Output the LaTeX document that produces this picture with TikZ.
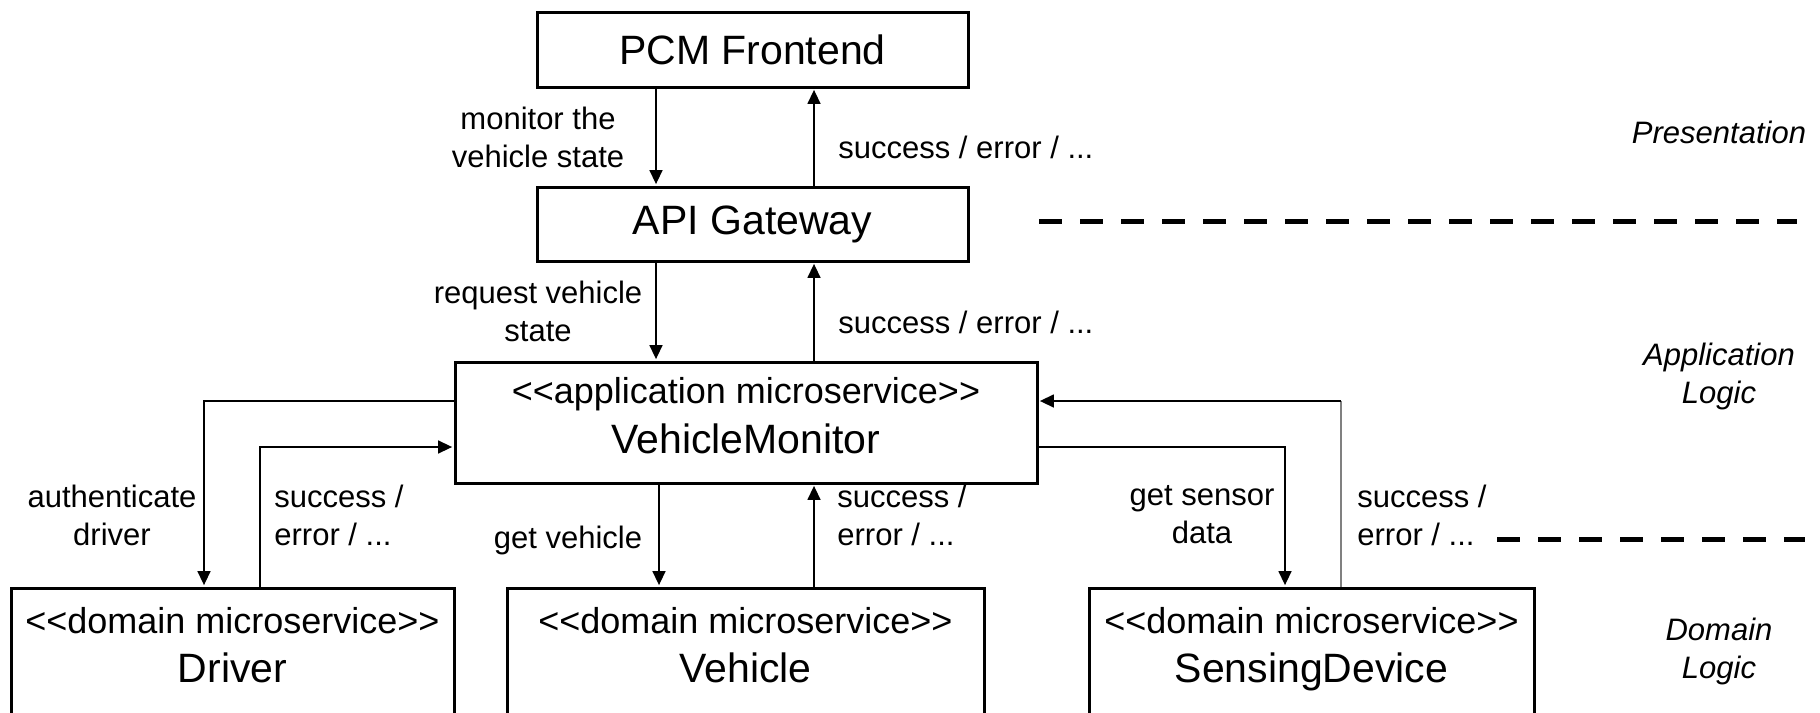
\documentclass[tikz,border=0pt]{standalone}
\usepackage{fontspec}
\setmainfont{Liberation Sans}
\usetikzlibrary{arrows.meta}
\newcommand\stL{<\kern0pt<}
\newcommand\stR{>\kern0pt>}
\definecolor{lightline}{gray}{0.5}
\begin{document}
\begin{tikzpicture}[x=0.5pt,y=-0.5pt,
  box/.style={draw, line width=1.5pt, rectangle, inner sep=0pt},
  arr/.style={line width=0.75pt, shorten >=0.7pt, -{Triangle[length=7pt,width=6.5pt,color=black]}},
  lbl/.style={font=\fontsize{15.5}{19}\selectfont, align=center, inner sep=0pt},
  lbll/.style={font=\fontsize{15.5}{19}\selectfont, align=left, inner sep=0pt, anchor=west},
  layer/.style={font=\fontsize{15.5}{19}\selectfont\itshape, align=center, inner sep=0pt},
  stereo/.style={font=\fontsize{18}{22}\selectfont, anchor=base, inner sep=0pt},
  bname/.style={font=\fontsize{20.5}{24}\selectfont, anchor=base, inner sep=0pt},
  sep/.style={line width=2.5pt, dash pattern=on 11.5pt off 9pt},
]
\useasboundingbox (0,0) rectangle (1820,712);
\clip (0,0) rectangle (1820,712);

% boxes
\node[box, minimum width=215.5pt, minimum height=37.5pt, font=\fontsize{20.5}{24}\selectfont] (pcm) at (752.5,49.5) {PCM Frontend};
\node[box, minimum width=215.5pt, minimum height=37pt, font=\fontsize{20.5}{24}\selectfont] (api) at (752.5,224) {API Gateway};
\node[box, minimum width=291pt, minimum height=60.5pt] (vm) at (746,422.5) {};
\node[stereo] (vmS) at (746,403) {\stL application microservice\stR};
\node[bname] (vmN) at (746,453) {VehicleMonitor};

\node[box, minimum width=221.5pt, minimum height=81pt] (drv) at (232.5,669) {};
\node[stereo] (drvS) at (232.5,633) {\stL domain microservice\stR};
\node[bname] (drvN) at (232.5,682) {Driver};

\node[box, minimum width=238.5pt, minimum height=81pt] (veh) at (745.5,669) {};
\node[stereo] (vehS) at (745.5,633) {\stL domain microservice\stR};
\node[bname] (vehN) at (745.5,682) {Vehicle};

\node[box, minimum width=222.5pt, minimum height=81pt] (sd) at (1311.5,669) {};
\node[stereo] (sdS) at (1311.5,633) {\stL domain microservice\stR};
\node[bname] (sdN) at (1311.5,682) {SensingDevice};

% helper coordinates
\coordinate (xA) at (656,0);
\coordinate (xB) at (814,0);
\coordinate (xC) at (659,0);
\coordinate (yU) at (0,401);
\coordinate (yD) at (0,447);
\coordinate (xD1) at (204,0);
\coordinate (xD2) at (260,0);
\coordinate (xS1) at (1285,0);
\coordinate (xS2) at (1341,0);
\coordinate (cS) at (1341,401);

% vertical connectors
\draw[arr] (pcm.south -| xA) -- (api.north -| xA);
\draw[arr] (api.north -| xB) -- (pcm.south -| xB);
\draw[arr] (api.south -| xA) -- (vm.north -| xA);
\draw[arr] (vm.north -| xB) -- (api.south -| xB);
\draw[arr] (vm.south -| xC) -- (veh.north -| xC);
\draw[arr] (veh.north -| xB) -- (vm.south -| xB);

% side connectors
\draw[arr] (vm.west |- yU) -| (drv.north -| xD1);
\draw[arr] (drv.north -| xD2) |- (vm.west |- yD);
\draw[arr] (vm.east |- yD) -| (sd.north -| xS1);
\draw[lightline, line width=1pt] (sd.north -| xS2) -- (cS);
\draw[arr] (cS) -- (vm.east |- yU);

% labels
\node[lbl] (l1) at (538,137.5) {monitor the\\vehicle state};
\node[lbll] (l2) at (838,147) {success / error / ...};
\node[lbl] (l3) at (538,311.5) {request vehicle\\state};
\node[lbll] (l4) at (838,322) {success / error / ...};
\node[lbl] (l5) at (112,515.5) {authenticate\\driver};
\node[lbll] (l6) at (274,515.5) {success /\\error / ...};
\node[lbl] (l7) at (568,540) {get vehicle};
\node[lbll] (l8) at (837,515.5) {success /\\error / ...};
\node[lbl] (l9) at (1202,514.5) {get sensor\\data};
\node[lbll] (l10) at (1357,515.5) {success /\\error / ...};

% layers
\node[layer] (lp) at (1719,132) {Presentation};
\node[layer] (la) at (1719,376) {Application\\Logic};
\node[layer] (ld) at (1719,651) {Domain\\Logic};

% separators
\coordinate (d1a) at (1039,221);
\coordinate (d1b) at (1797,221);
\coordinate (d2a) at (1497,539);
\coordinate (d2b) at (1805,539);
\draw[sep] (d1a) -- (d1b);
\draw[sep] (d2a) -- (d2b);
\end{tikzpicture}
\end{document}
